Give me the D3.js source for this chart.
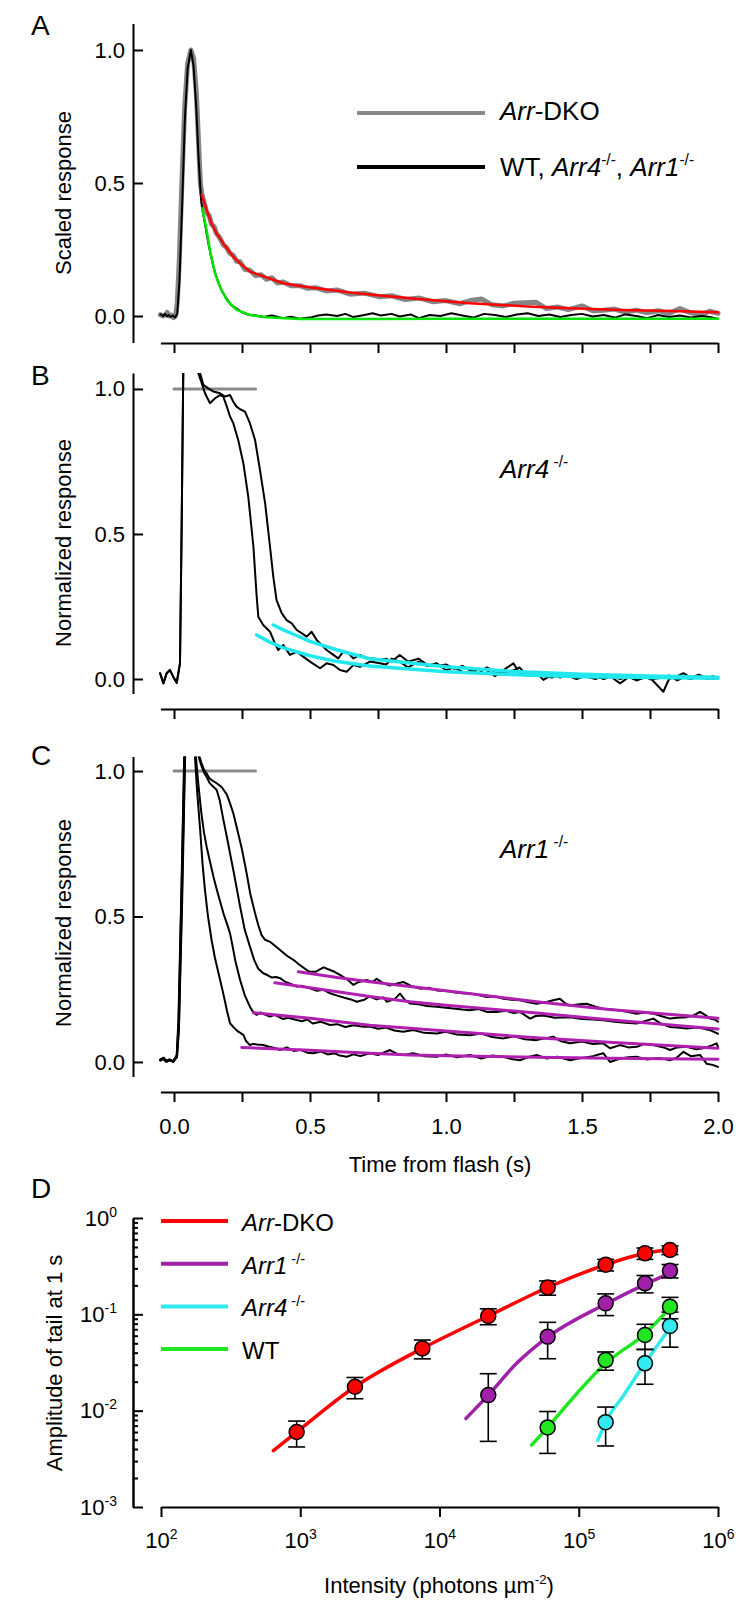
<!DOCTYPE html>
<html lang="en">
<head>
<meta charset="UTF-8">
<title>Arrestin tail responses</title>
<script src="https://d3js.org/d3.v7.min.js"></script>
<style>
  body { margin: 0; background: #fff; }
  svg { font-family: "Liberation Sans", Arial, sans-serif; }
  .axis path, .axis line { stroke: #000; stroke-width: 2px; }
  .axis text { font-size: 22px; fill: #000; font-family: "Liberation Sans", Arial, sans-serif; }
  .trace { fill: none; stroke-linejoin: round; stroke-linecap: round; }
</style>
</head>
<body>
<script>
// ---------- data: panel A (scaled responses) ----------
var timeTicks = [0, 0.25, 0.5, 0.75, 1.0, 1.25, 1.5, 1.75, 2.0];

var dkoTraceA = [[-0.05,0.005],[-0.04,0.0],[-0.03,0.006],[-0.025,0.014],[-0.018,0.0],[-0.01,0.004],[-0.002,-0.006],[0.006,0.0],[0.012,0.05],[0.019,0.2],[0.029,0.5],[0.039,0.78],[0.05,0.95],[0.062,1.0],[0.072,0.97],[0.082,0.84],[0.09,0.66],[0.097,0.5],[0.102,0.46],[0.11,0.43],[0.12,0.39],[0.13,0.375],[0.138,0.345],[0.148,0.335],[0.156,0.31],[0.168,0.295],[0.181,0.268],[0.195,0.255],[0.205,0.236],[0.218,0.228],[0.23,0.206],[0.243,0.204],[0.26,0.176],[0.279,0.172],[0.3,0.152],[0.32,0.155],[0.34,0.138],[0.36,0.144],[0.38,0.124],[0.402,0.128],[0.43,0.114],[0.463,0.114],[0.49,0.104],[0.524,0.106],[0.56,0.094],[0.6,0.098],[0.647,0.082],[0.7,0.086],[0.757,0.072],[0.8,0.076],[0.85,0.062],[0.9,0.068],[0.95,0.054],[1.0,0.058],[1.05,0.046],[1.09,0.058],[1.13,0.064],[1.17,0.042],[1.21,0.038],[1.25,0.048],[1.29,0.05],[1.33,0.052],[1.37,0.028],[1.41,0.034],[1.45,0.024],[1.5,0.038],[1.54,0.02],[1.58,0.022],[1.62,0.026],[1.66,0.014],[1.7,0.022],[1.74,0.012],[1.78,0.02],[1.82,0.01],[1.86,0.028],[1.9,0.012],[1.94,0.006],[1.97,0.018],[2.0,0.01]];

var wtTraceA = [[-0.05,0.006],[-0.04,0.0],[-0.033,0.008],[-0.026,-0.002],[-0.02,0.004],[-0.012,-0.004],[-0.004,0.002],[0.004,-0.006],[0.012,0.01],[0.02,0.13],[0.03,0.42],[0.04,0.74],[0.05,0.93],[0.062,1.0],[0.072,0.94],[0.082,0.78],[0.09,0.6],[0.097,0.48],[0.1,0.43],[0.106,0.39],[0.115,0.34],[0.125,0.28],[0.135,0.23],[0.145,0.185],[0.155,0.15],[0.165,0.12],[0.178,0.09],[0.194,0.065],[0.21,0.042],[0.23,0.028],[0.25,0.014],[0.27,0.006],[0.3,0.002],[0.33,-0.004],[0.36,0.002],[0.4,-0.008],[0.43,-0.003],[0.46,-0.01],[0.5,-0.006],[0.53,0.002],[0.56,0.006],[0.6,0.0],[0.63,0.008],[0.66,-0.004],[0.7,0.004],[0.73,0.01],[0.76,0.002],[0.8,0.008],[0.83,-0.002],[0.87,0.006],[0.9,-0.008],[0.94,0.004],[0.98,0.0],[1.02,0.01],[1.06,0.002],[1.1,-0.006],[1.14,0.008],[1.18,0.004],[1.22,-0.004],[1.26,0.006],[1.3,0.01],[1.34,0.0],[1.38,0.006],[1.42,-0.004],[1.46,0.004],[1.5,0.008],[1.54,-0.002],[1.58,0.004],[1.62,-0.006],[1.66,0.006],[1.7,0.0],[1.74,-0.008],[1.78,0.004],[1.82,-0.004],[1.86,0.002],[1.9,-0.006],[1.94,0.0],[1.97,-0.004],[2.0,-0.01]];

var dkoFitA = [[0.102,0.455],[0.12,0.398],[0.138,0.348],[0.156,0.311],[0.181,0.273],[0.218,0.223],[0.243,0.198],[0.279,0.167],[0.34,0.145],[0.402,0.123],[0.463,0.113],[0.524,0.104],[0.647,0.088],[0.757,0.077],[0.9,0.064],[1.088,0.048],[1.3,0.036],[1.456,0.029],[1.65,0.023],[1.824,0.019],[2.0,0.014]];

var wtFitA = [[0.104,0.405],[0.12,0.323],[0.132,0.248],[0.151,0.16],[0.169,0.11],[0.194,0.06],[0.23,0.023],[0.279,0.004],[0.34,-0.005],[0.463,-0.011],[0.7,-0.011],[1.0,-0.01],[1.5,-0.01],[2.0,-0.01]];

// ---------- data: panel B (Arr4-/-) ----------
var riseB = [[-0.051,0.02],[-0.039,-0.015],[-0.027,0.02],[-0.015,0.031],[-0.003,0.008],[0.01,-0.013],[0.022,0.054],[0.028,0.514],[0.034,1.054],[0.045,1.3],[0.06,1.4]];

var arr4Trace1 = [[0.075,1.25],[0.089,1.055],[0.102,1.02],[0.114,0.985],[0.132,0.951],[0.151,0.968],[0.169,0.979],[0.181,0.974],[0.194,0.94],[0.206,0.905],[0.218,0.882],[0.236,0.824],[0.255,0.744],[0.273,0.629],[0.292,0.456],[0.304,0.284],[0.31,0.215],[0.328,0.186],[0.353,0.163],[0.371,0.123],[0.383,0.1],[0.402,0.117],[0.426,0.083],[0.451,0.094],[0.475,0.077],[0.5,0.06],[0.537,0.037],[0.561,0.054],[0.586,0.048],[0.61,0.031],[0.635,0.025],[0.659,0.048],[0.684,0.042],[0.72,0.06],[0.757,0.054],[0.78,0.05],[0.8,0.07],[0.83,0.06],[0.86,0.04],[0.9,0.06],[0.93,0.045],[0.966,0.054],[1.0,0.03],[1.03,0.04],[1.06,0.025],[1.088,0.02],[1.12,0.035],[1.15,0.03],[1.18,0.01],[1.21,0.03],[1.248,0.054],[1.27,0.02],[1.3,0.015],[1.33,0.025],[1.358,-0.003],[1.39,0.015],[1.42,0.005],[1.45,0.02],[1.48,0.01],[1.517,0.008],[1.55,0.0],[1.58,0.015],[1.61,0.005],[1.64,-0.015],[1.67,0.005],[1.7,0.0],[1.73,0.01],[1.76,-0.005],[1.799,-0.044],[1.82,0.0],[1.85,0.01],[1.873,0.02],[1.9,0.005],[1.93,0.015],[1.96,0.0],[1.98,0.01],[2.0,0.002]];

var arr4Trace2 = [[0.08,1.25],[0.096,1.054],[0.108,1.014],[0.126,1.002],[0.145,0.991],[0.169,0.985],[0.188,0.974],[0.206,0.979],[0.218,0.956],[0.23,0.939],[0.243,0.93],[0.261,0.922],[0.279,0.882],[0.298,0.824],[0.316,0.721],[0.335,0.606],[0.353,0.456],[0.365,0.353],[0.377,0.272],[0.396,0.227],[0.414,0.203],[0.433,0.192],[0.451,0.169],[0.469,0.158],[0.488,0.146],[0.506,0.163],[0.525,0.134],[0.543,0.117],[0.561,0.1],[0.586,0.083],[0.604,0.071],[0.622,0.094],[0.641,0.089],[0.659,0.071],[0.684,0.083],[0.708,0.071],[0.733,0.071],[0.757,0.066],[0.78,0.07],[0.8,0.06],[0.83,0.083],[0.86,0.06],[0.9,0.07],[0.93,0.05],[0.966,0.045],[1.0,0.05],[1.03,0.035],[1.06,0.045],[1.088,0.03],[1.12,0.02],[1.15,0.04],[1.18,0.025],[1.21,0.02],[1.248,0.03],[1.27,0.04],[1.3,0.01],[1.33,0.02],[1.358,0.01],[1.39,0.005],[1.42,0.02],[1.45,0.01],[1.48,0.0],[1.517,0.012],[1.55,0.01],[1.58,0.0],[1.61,0.01],[1.64,0.0],[1.67,0.008],[1.7,-0.005],[1.73,0.005],[1.76,0.0],[1.8,0.005],[1.82,0.012],[1.85,-0.005],[1.873,0.005],[1.9,0.0],[1.93,0.01],[1.96,0.005],[1.98,0.0],[2.0,0.0]];

var arr4Fit1 = [[0.304,0.152],[0.35,0.128],[0.4,0.108],[0.5,0.08],[0.6,0.06],[0.72,0.045],[1.0,0.025],[1.25,0.015],[1.5,0.008],[1.75,0.005],[2.0,0.003]];
var arr4Fit2 = [[0.365,0.186],[0.4,0.17],[0.45,0.15],[0.5,0.13],[0.6,0.1],[0.72,0.07],[1.0,0.042],[1.25,0.026],[1.5,0.016],[1.75,0.01],[2.0,0.006]];

// ---------- data: panel C (Arr1-/-) ----------
var riseC1 = [[-0.051,0.007],[-0.039,0.013],[-0.027,0.001],[-0.015,0.007],[-0.003,0.001],[0.01,0.024],[0.016,0.14],[0.028,0.62],[0.038,1.08],[0.055,1.4]];
var riseC2 = [[-0.051,0.006],[-0.04,0.01],[-0.028,0.0],[-0.016,0.008],[-0.004,0.003],[0.01,0.02],[0.017,0.13],[0.028,0.6],[0.039,1.07],[0.058,1.4]];
var riseC3 = [[-0.05,0.009],[-0.038,0.015],[-0.026,0.003],[-0.014,0.005],[-0.002,0.0],[0.011,0.018],[0.018,0.12],[0.029,0.57],[0.04,1.06],[0.06,1.4]];
var riseC4 = [[-0.05,0.004],[-0.041,0.011],[-0.029,0.004],[-0.017,0.009],[-0.005,0.002],[0.011,0.016],[0.018,0.11],[0.03,0.55],[0.041,1.05],[0.062,1.4]];

var arr1Trace1 = [[0.07,1.2],[0.077,1.05],[0.085,0.93],[0.096,0.8],[0.105,0.68],[0.114,0.59],[0.125,0.5],[0.138,0.42],[0.15,0.36],[0.165,0.3],[0.18,0.24],[0.195,0.175],[0.206,0.133],[0.22,0.118],[0.235,0.105],[0.255,0.093],[0.265,0.072],[0.279,0.058],[0.29,0.062],[0.305,0.06],[0.328,0.058],[0.35,0.052],[0.37,0.048],[0.39,0.041],[0.415,0.05],[0.44,0.038],[0.465,0.042],[0.49,0.032],[0.512,0.03],[0.54,0.036],[0.565,0.026],[0.59,0.03],[0.61,0.022],[0.635,0.018],[0.66,0.026],[0.685,0.02],[0.72,0.03],[0.75,0.024],[0.794,0.041],[0.82,0.028],[0.843,0.024],[0.88,0.03],[0.92,0.02],[0.966,0.018],[1.0,0.026],[1.04,0.016],[1.088,0.024],[1.13,0.012],[1.17,0.022],[1.211,0.018],[1.24,0.01],[1.272,0.006],[1.3,0.016],[1.333,0.024],[1.37,0.012],[1.41,0.018],[1.456,0.006],[1.5,0.014],[1.54,0.02],[1.578,0.03],[1.603,0.0],[1.64,0.012],[1.67,0.016],[1.701,0.018],[1.74,0.008],[1.78,0.014],[1.824,0.006],[1.85,0.016],[1.873,0.035],[1.9,0.02],[1.934,0.024],[1.958,-0.006],[1.98,-0.01],[2.0,-0.017]];

var arr1Trace2 = [[0.072,1.2],[0.08,1.055],[0.09,0.95],[0.1,0.86],[0.11,0.79],[0.12,0.74],[0.132,0.69],[0.145,0.637],[0.158,0.59],[0.17,0.55],[0.182,0.51],[0.194,0.477],[0.206,0.442],[0.215,0.4],[0.225,0.35],[0.243,0.282],[0.26,0.23],[0.279,0.19],[0.292,0.17],[0.304,0.162],[0.318,0.17],[0.33,0.165],[0.353,0.156],[0.37,0.162],[0.385,0.155],[0.4,0.148],[0.42,0.152],[0.451,0.144],[0.47,0.14],[0.49,0.146],[0.51,0.132],[0.54,0.138],[0.574,0.127],[0.6,0.13],[0.63,0.12],[0.66,0.126],[0.696,0.121],[0.72,0.122],[0.75,0.114],[0.78,0.118],[0.81,0.108],[0.843,0.104],[0.88,0.11],[0.92,0.1],[0.966,0.098],[1.0,0.104],[1.04,0.094],[1.088,0.092],[1.13,0.098],[1.17,0.086],[1.211,0.081],[1.25,0.088],[1.29,0.078],[1.333,0.075],[1.394,0.087],[1.42,0.072],[1.456,0.064],[1.5,0.07],[1.54,0.062],[1.578,0.064],[1.603,0.047],[1.64,0.058],[1.67,0.05],[1.701,0.052],[1.73,0.062],[1.762,0.058],[1.8,0.05],[1.824,0.041],[1.85,0.05],[1.885,0.052],[1.92,0.044],[1.946,0.047],[1.975,0.056],[1.995,0.064],[2.0,0.052]];

var arr1Trace3 = [[0.08,1.2],[0.089,1.055],[0.1,1.02],[0.11,0.995],[0.12,0.98],[0.13,0.96],[0.14,0.95],[0.157,0.935],[0.168,0.9],[0.18,0.84],[0.194,0.775],[0.206,0.717],[0.218,0.66],[0.23,0.6],[0.243,0.534],[0.26,0.455],[0.279,0.397],[0.295,0.35],[0.31,0.32],[0.328,0.305],[0.345,0.298],[0.36,0.29],[0.375,0.292],[0.39,0.288],[0.41,0.275],[0.43,0.268],[0.451,0.259],[0.47,0.262],[0.5,0.253],[0.525,0.245],[0.55,0.248],[0.574,0.236],[0.6,0.228],[0.63,0.22],[0.65,0.215],[0.672,0.207],[0.7,0.214],[0.72,0.225],[0.745,0.215],[0.77,0.222],[0.782,0.207],[0.81,0.215],[0.831,0.235],[0.85,0.212],[0.867,0.201],[0.9,0.198],[0.93,0.192],[0.966,0.19],[1.0,0.186],[1.027,0.184],[1.06,0.18],[1.088,0.178],[1.12,0.182],[1.15,0.172],[1.186,0.172],[1.22,0.176],[1.25,0.168],[1.272,0.172],[1.309,0.149],[1.33,0.158],[1.358,0.16],[1.4,0.152],[1.456,0.154],[1.5,0.148],[1.54,0.146],[1.578,0.143],[1.62,0.138],[1.66,0.135],[1.701,0.132],[1.73,0.14],[1.762,0.149],[1.79,0.132],[1.824,0.12],[1.85,0.118],[1.885,0.115],[1.92,0.118],[1.946,0.115],[1.975,0.108],[2.0,0.097]];

var arr1Trace4 = [[0.082,1.2],[0.092,1.055],[0.1,1.03],[0.11,1.005],[0.12,0.992],[0.13,0.975],[0.14,0.968],[0.157,0.958],[0.175,0.945],[0.194,0.92],[0.206,0.889],[0.218,0.855],[0.23,0.809],[0.25,0.73],[0.267,0.649],[0.28,0.58],[0.298,0.511],[0.31,0.47],[0.322,0.436],[0.335,0.42],[0.353,0.413],[0.37,0.4],[0.39,0.385],[0.415,0.365],[0.439,0.351],[0.46,0.335],[0.488,0.316],[0.5,0.31],[0.52,0.31],[0.55,0.325],[0.574,0.316],[0.59,0.31],[0.61,0.299],[0.635,0.285],[0.659,0.265],[0.68,0.275],[0.708,0.282],[0.73,0.275],[0.745,0.286],[0.77,0.27],[0.794,0.263],[0.82,0.27],[0.843,0.275],[0.87,0.262],[0.904,0.252],[0.935,0.255],[0.966,0.246],[1.0,0.244],[1.027,0.24],[1.06,0.236],[1.088,0.235],[1.12,0.23],[1.149,0.223],[1.18,0.226],[1.211,0.217],[1.24,0.214],[1.272,0.212],[1.3,0.206],[1.333,0.2],[1.37,0.206],[1.394,0.212],[1.419,0.217],[1.44,0.2],[1.456,0.194],[1.49,0.198],[1.517,0.2],[1.55,0.19],[1.578,0.183],[1.61,0.18],[1.64,0.177],[1.67,0.172],[1.701,0.166],[1.73,0.17],[1.762,0.166],[1.79,0.158],[1.824,0.149],[1.85,0.152],[1.885,0.154],[1.91,0.16],[1.934,0.172],[1.955,0.16],[1.971,0.149],[1.99,0.145],[2.0,0.138]];

var arr1Fit1 = [[0.457,0.31],[0.6,0.29],[0.72,0.276],[0.868,0.259],[1.0,0.245],[1.333,0.207],[1.6,0.18],[2.0,0.15]];
var arr1Fit2 = [[0.371,0.272],[0.5,0.255],[0.72,0.225],[0.868,0.207],[1.0,0.195],[1.333,0.168],[1.6,0.145],[2.0,0.113]];
var arr1Fit3 = [[0.292,0.169],[0.5,0.15],[0.72,0.126],[0.868,0.116],[1.0,0.106],[1.333,0.083],[1.6,0.068],[2.0,0.047]];
var arr1Fit4 = [[0.249,0.05],[0.5,0.04],[0.72,0.03],[0.868,0.024],[1.0,0.021],[1.333,0.016],[1.6,0.013],[2.0,0.009]];

var refBar = [[0, 1], [0.3, 1]];

// ---------- data: panel D (tail amplitude vs intensity) ----------
var dkoI   = [942, 2470, 7530, 22400, 59800, 156000, 299000, 452000];
var dkoAmp = [0.0060, 0.0177, 0.0443, 0.096, 0.19, 0.327, 0.43, 0.465];
var dkoErr = [0.0018, 0.0044, 0.0098, 0.018, 0.032, 0.045, 0.058, 0.048];
var dkoFitI = [641, 942, 2470, 7530, 22400, 59800, 156000, 299000, 452000];
var dkoFit  = [0.00384, 0.0060, 0.0177, 0.0443, 0.096, 0.19, 0.327, 0.43, 0.47];

var arr1I   = [22400, 59800, 156000, 299000, 452000];
var arr1Amp = [0.0145, 0.0586, 0.13, 0.21, 0.284];
var arr1Err = [0.0097, 0.024, 0.033, 0.043, 0.045];
var arr1FitI = [15500, 22400, 35800, 59800, 156000, 299000, 435000];
var arr1Fit  = [0.0083, 0.0145, 0.031, 0.058, 0.128, 0.205, 0.262];

var arr4I   = [156000, 299000, 452000];
var arr4Amp = [0.0076, 0.031, 0.0756];
var arr4Err = [0.0033, 0.0122, 0.030];
var arr4FitI = [137000, 156000, 209000, 299000, 440000];
var arr4Fit  = [0.0049, 0.0076, 0.0143, 0.031, 0.0687];

var wtI   = [59800, 156000, 299000, 452000];
var wtAmp = [0.0067, 0.0335, 0.061, 0.12];
var wtErr = [0.0031, 0.0072, 0.0178, 0.03];
var wtFitI = [45900, 59800, 86500, 156000, 299000, 438000];
var wtFit  = [0.0044, 0.0067, 0.0125, 0.031, 0.063, 0.111];

// ---------- drawing ----------
var svg = d3.select("body").append("svg")
    .attr("width", 750)
    .attr("height", 1604);

var x = d3.scaleLinear().domain([-0.05, 2.0]).range([160.4, 718]);
var yA = d3.scaleLinear().domain([-0.1, 1.1]).range([342.6, 23.4]);
var yB = d3.scaleLinear().domain([-0.05, 1.055]).range([693.5, 373]);
var yC = d3.scaleLinear().domain([-0.05, 1.05]).range([1076.5, 756.5]);

// text with italic / superscript runs
function richText(parent, px, py, parts, size, anchor) {
    var t = parent.append("text")
        .attr("x", px).attr("y", py)
        .attr("font-size", size)
        .attr("text-anchor", anchor || "start")
        .attr("fill", "#000");
    var raised = false;
    parts.forEach(function(p) {
        var s = t.append("tspan").text(p.t);
        if (p.i) s.attr("font-style", "italic");
        if (p.sup) {
            s.attr("font-size", size * 0.6);
            if (!raised) s.attr("dy", -size * 0.42);
            raised = true;
        } else if (raised) {
            s.attr("dy", size * 0.42);
            raised = false;
        }
    });
    return t;
}

function timePanel(ys, axisY, clipId, showLabels) {
    var g = svg.append("g");

    g.append("g").attr("class", "axis")
        .attr("transform", "translate(133,0)")
        .call(d3.axisLeft(ys).tickValues([0, 0.5, 1]).tickFormat(d3.format(".1f"))
            .tickSizeInner(-10).tickSizeOuter(0).tickPadding(8));

    g.append("g").attr("class", "axis")
        .attr("transform", "translate(0," + axisY + ")")
        .call(d3.axisBottom(x).tickValues(timeTicks)
            .tickFormat(function(d) {
                return (showLabels && Math.abs(d * 2 - Math.round(d * 2)) < 1e-9) ? d3.format(".1f")(d) : "";
            })
            .tickSizeInner(10).tickSizeOuter(0).tickPadding(16));

    svg.append("clipPath").attr("id", clipId)
        .append("rect")
        .attr("x", 134).attr("y", ys.range()[1])
        .attr("width", 600).attr("height", ys.range()[0] - ys.range()[1]);

    return g.append("g").attr("clip-path", "url(#" + clipId + ")");
}

function drawLine(g, ys, data, color, width) {
    var line = d3.line().x(function(d) { return x(d[0]); }).y(function(d) { return ys(d[1]); });
    g.append("path").datum(data)
        .attr("class", "trace")
        .attr("d", line)
        .attr("stroke", color)
        .attr("stroke-width", width);
}

// Panel A
var gA = timePanel(yA, 343, "clipA", false);
drawLine(gA, yA, dkoTraceA, "#858585", 5);
drawLine(gA, yA, wtTraceA, "#000", 2);
drawLine(gA, yA, dkoFitA, "#ff0000", 2.5);
drawLine(gA, yA, wtFitA, "#00e600", 2.5);

// Panel B
var gB = timePanel(yB, 709, "clipB", false);
drawLine(gB, yB, refBar, "#8a8a8a", 3);
drawLine(gB, yB, riseB.concat(arr4Trace2), "#000", 2);
drawLine(gB, yB, riseB.concat(arr4Trace1), "#000", 2);
drawLine(gB, yB, arr4Fit1, "#22e8ee", 3.5);
drawLine(gB, yB, arr4Fit2, "#22e8ee", 3.5);

// Panel C
var gC = timePanel(yC, 1092, "clipC", true);
drawLine(gC, yC, refBar, "#8a8a8a", 3);
drawLine(gC, yC, riseC1.concat(arr1Trace1), "#000", 2);
drawLine(gC, yC, riseC2.concat(arr1Trace2), "#000", 2);
drawLine(gC, yC, riseC3.concat(arr1Trace3), "#000", 2);
drawLine(gC, yC, riseC4.concat(arr1Trace4), "#000", 2);
[arr1Fit1, arr1Fit2, arr1Fit3, arr1Fit4].forEach(function(f) {
    drawLine(gC, yC, f, "#b020b0", 3);
});

// y titles, panel letters, labels
function yTitle(tx, ty, str) {
    svg.append("text")
        .attr("transform", "translate(" + tx + "," + ty + ") rotate(-90)")
        .attr("text-anchor", "middle")
        .attr("font-size", 22)
        .text(str);
}
yTitle(71, 193, "Scaled response");
yTitle(71, 543, "Normalized response");
yTitle(71, 923, "Normalized response");
yTitle(62, 1363, "Amplitude of tail at 1 s");

[["A", 35], ["B", 385], ["C", 765], ["D", 1198]].forEach(function(p) {
    svg.append("text").attr("x", 31).attr("y", p[1]).attr("font-size", 28).text(p[0]);
});

svg.append("text").attr("x", 440).attr("y", 1172).attr("text-anchor", "middle")
    .attr("font-size", 22).text("Time from flash (s)");

// legend panel A
svg.append("line").attr("x1", 357).attr("x2", 485).attr("y1", 113).attr("y2", 113)
    .attr("stroke", "#8a8a8a").attr("stroke-width", 4);
svg.append("line").attr("x1", 357).attr("x2", 485).attr("y1", 167).attr("y2", 167)
    .attr("stroke", "#000").attr("stroke-width", 4);
richText(svg, 500, 120, [{t: "Arr", i: true}, {t: "-DKO"}], 26);
richText(svg, 500, 176, [{t: "WT, "}, {t: "Arr4", i: true}, {t: "-/-", sup: true}, {t: ", "}, {t: "Arr1", i: true}, {t: "-/-", sup: true}], 26);

richText(svg, 500, 478, [{t: "Arr4", i: true}, {t: " -/-", sup: true}], 26);
richText(svg, 500, 858, [{t: "Arr1", i: true}, {t: " -/-", sup: true}], 26);

// Panel D
var xD = d3.scaleLog().domain([1e2, 1e6]).range([161, 718]);
var yD = d3.scaleLog().domain([1e-3, 1]).range([1507, 1218]);

function supLabels(sel) {
    sel.selectAll(".tick text").each(function(d) {
        var t = d3.select(this);
        t.text("10");
        t.append("tspan").attr("dy", -9).attr("font-size", 14)
            .text(String(Math.round(Math.log10(d))));
    });
}

var majorY = [1e-3, 1e-2, 1e-1, 1];
var minorY = yD.ticks().filter(function(d) { return majorY.indexOf(d) < 0; });

svg.append("g").attr("class", "axis").attr("transform", "translate(133,0)")
    .call(d3.axisLeft(yD).tickValues(minorY).tickFormat("").tickSizeInner(-5).tickSizeOuter(0));
svg.append("g").attr("class", "axis").attr("transform", "translate(133,0)")
    .call(d3.axisLeft(yD).tickValues(majorY).tickSizeInner(-10).tickSizeOuter(0).tickPadding(16))
    .call(supLabels);
svg.append("g").attr("class", "axis").attr("transform", "translate(0,1507)")
    .call(d3.axisBottom(xD).tickValues([1e2, 1e3, 1e4, 1e5, 1e6]).tickSizeInner(10).tickSizeOuter(0).tickPadding(15))
    .call(supLabels);

richText(svg, 439, 1593, [{t: "Intensity (photons \u00b5m"}, {t: "-2", sup: true}, {t: ")"}], 22, "middle");

var seriesD = [
    {name: [{t: "Arr", i: true}, {t: "-DKO"}], I: dkoI, amp: dkoAmp, err: dkoErr, fitI: dkoFitI, fit: dkoFit, color: "#ff0000"},
    {name: [{t: "Arr1", i: true}, {t: " -/-", sup: true}], I: arr1I, amp: arr1Amp, err: arr1Err, fitI: arr1FitI, fit: arr1Fit, color: "#a020a8"},
    {name: [{t: "Arr4", i: true}, {t: " -/-", sup: true}], I: arr4I, amp: arr4Amp, err: arr4Err, fitI: arr4FitI, fit: arr4Fit, color: "#33eaf0"},
    {name: [{t: "WT"}], I: wtI, amp: wtAmp, err: wtErr, fitI: wtFitI, fit: wtFit, color: "#22e622"}
];

var lineD = d3.line().curve(d3.curveMonotoneX)
    .x(function(d) { return xD(d[0]); })
    .y(function(d) { return yD(d[1]); });

var gD = svg.append("g");
seriesD.forEach(function(s) {
    gD.append("path")
        .datum(d3.zip(s.fitI, s.fit))
        .attr("class", "trace")
        .attr("d", lineD)
        .attr("stroke", s.color)
        .attr("stroke-width", 3.5);
});
seriesD.forEach(function(s) {
    var pts = d3.zip(s.I, s.amp, s.err);
    var eb = gD.append("g").attr("stroke", "#000").attr("stroke-width", 1.6);
    pts.forEach(function(p) {
        var cx = xD(p[0]), top = yD(p[1] + p[2]), bot = yD(Math.max(p[1] - p[2], 1e-4));
        eb.append("line").attr("x1", cx).attr("x2", cx).attr("y1", top).attr("y2", bot);
        eb.append("line").attr("x1", cx - 8.5).attr("x2", cx + 8.5).attr("y1", top).attr("y2", top);
        eb.append("line").attr("x1", cx - 8.5).attr("x2", cx + 8.5).attr("y1", bot).attr("y2", bot);
    });
});
seriesD.forEach(function(s) {
    gD.selectAll(null)
        .data(d3.zip(s.I, s.amp))
        .enter().append("circle")
        .attr("cx", function(d) { return xD(d[0]); })
        .attr("cy", function(d) { return yD(d[1]); })
        .attr("r", 7.5)
        .attr("fill", s.color)
        .attr("stroke", "#000")
        .attr("stroke-width", 1.5);
});

// legend panel D
seriesD.forEach(function(s, i) {
    var ly = 1221 + i * 42.7;
    svg.append("line").attr("x1", 161).attr("x2", 228).attr("y1", ly).attr("y2", ly)
        .attr("stroke", s.color).attr("stroke-width", 4);
    richText(svg, 242, ly + 10, s.name, 24);
});
</script>
</body>
</html>
